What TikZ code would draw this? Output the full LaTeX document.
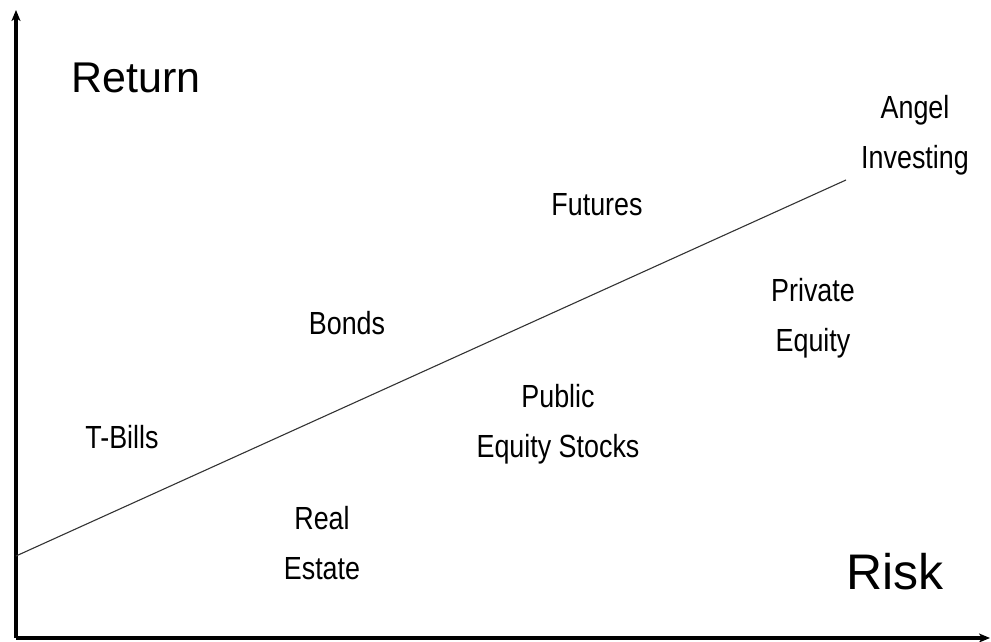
\documentclass[tikz,border=0pt]{standalone}
\usepackage{fontspec}
\setmainfont{Liberation Sans}
\newfontfamily\narrowsans[FakeStretch=0.84]{Liberation Sans}
\usetikzlibrary{arrows.meta}

\begin{document}
\begin{tikzpicture}
        [%%%%%%%%%%%%%%%%%%%%%%%%%%%%%%
        x=1pt, y=1pt,
        axis/.style={line width=3.2pt, -{Stealth[length=11pt,width=9pt,inset=3pt]}},
        trend/.style={line width=1.1pt, draw=black!80},
        lbl/.style={align=center, inner sep=0pt, font=\narrowsans\fontsize{32}{50}\selectfont},
        ]%%%%%%%%%%%%%%%%%%%%%%%%%%%%%%
        \useasboundingbox (0,0) rectangle (991,641);
        % Axes
        \coordinate (origin) at (16,3);
        \coordinate (ytop) at (16,631);
        \coordinate (xend) at (990,3);
        \draw[axis] (origin) -- (ytop);
        \draw[axis] (origin) -- (xend);
        % Trend line
        \coordinate (start) at (16,85);
        \coordinate (stop) at (846,461);
        \draw[trend] (start) -- (stop);
        % Axis titles
        \node[lbl, font=\fontsize{43}{49}\selectfont] (return) at (136,563) {Return};
        \node[lbl, font=\fontsize{50}{49}\selectfont] (risk) at (895,69) {Risk};
        % Assets
        \node[lbl] (tbills) at (122,204) {T-Bills};
        \node[lbl] (bonds) at (347,318) {Bonds};
        \node[lbl] (futures) at (597,436) {Futures};
        \node[lbl] (angel) at (915,506) {Angel\\Investing};
        \node[lbl] (private) at (813,323) {Private\\Equity};
        \node[lbl] (public) at (558,217) {Public\\Equity Stocks};
        \node[lbl] (realestate) at (322,98) {Real\\Estate};
\end{tikzpicture}
\end{document}
